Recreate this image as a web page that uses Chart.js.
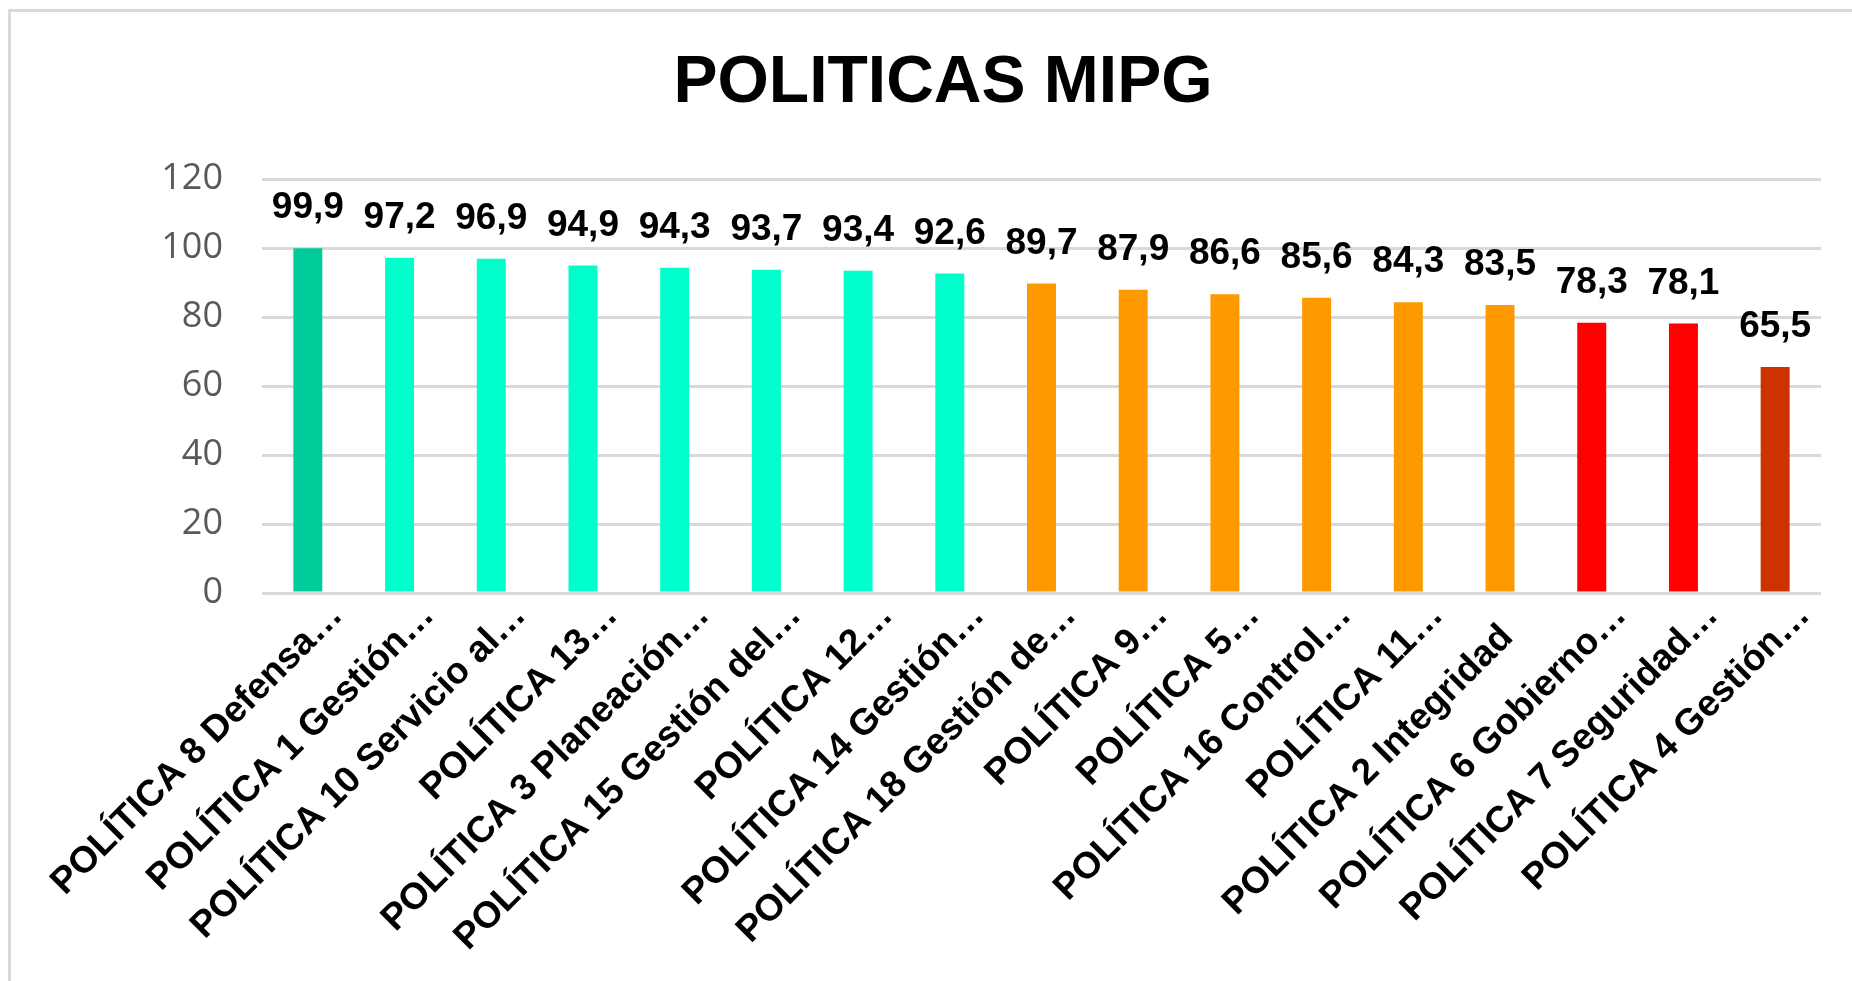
<!DOCTYPE html>
<html>
<head>
<meta charset="utf-8">
<script src="https://cdn.jsdelivr.net/npm/chart.js@4.4.1/dist/chart.umd.min.js"></script>
<style>
  html, body { margin: 0; padding: 0; background: #ffffff; }
  #wrap { width: 1852px; height: 981px; position: relative; }
</style>
</head>
<body>
<div id="wrap"><canvas id="c" width="1852" height="981"></canvas></div>
<script>
const chartTitle = "POLITICAS MIPG";
const categories = [
  "POLÍTICA 8 Defensa…",
  "POLÍTICA 1 Gestión…",
  "POLÍTICA 10 Servicio al…",
  "POLÍTICA 13…",
  "POLÍTICA 3 Planeación…",
  "POLÍTICA 15 Gestión del…",
  "POLÍTICA 12…",
  "POLÍTICA 14 Gestión…",
  "POLÍTICA 18 Gestión de…",
  "POLÍTICA 9…",
  "POLÍTICA 5…",
  "POLÍTICA 16 Control…",
  "POLÍTICA 11…",
  "POLÍTICA 2 Integridad\u00A0\u00A0\u00A0",
  "POLÍTICA 6 Gobierno…",
  "POLÍTICA 7 Seguridad…",
  "POLÍTICA 4 Gestión…"
];
const values = [99.9, 97.2, 96.9, 94.9, 94.3, 93.7, 93.4, 92.6, 89.7, 87.9, 86.6, 85.6, 84.3, 83.5, 78.3, 78.1, 65.5];
const barColors = [
  "#00CC99", "#00FFCC", "#00FFCC", "#00FFCC", "#00FFCC", "#00FFCC", "#00FFCC", "#00FFCC",
  "#FF9900", "#FF9900", "#FF9900", "#FF9900", "#FF9900", "#FF9900",
  "#FF0000", "#FF0000", "#CC3300"
];
const yTickMin = 0;
const yTickMax = 120;
const yTickStep = 20;

const frameLines = {
  id: "frameLines",
  beforeDraw(chart) {
    const ctx = chart.ctx;
    ctx.save();
    ctx.fillStyle = "#ffffff";
    ctx.fillRect(0, 0, chart.width, chart.height);
    ctx.fillStyle = "#D9D9D9";
    ctx.fillRect(8, 9, 3, chart.height);
    ctx.fillRect(8, 9, chart.width, 3);
    ctx.restore();
  }
};

const valueLabels = {
  id: "valueLabels",
  afterDatasetsDraw(chart) {
    const ctx = chart.ctx;
    const meta = chart.getDatasetMeta(0);
    ctx.save();
    ctx.font = "bold 37px 'Liberation Sans', Arial, sans-serif";
    ctx.fillStyle = "#000000";
    ctx.textAlign = "center";
    ctx.textBaseline = "alphabetic";
    meta.data.forEach((bar, i) => {
      const txt = values[i].toFixed(1).replace(".", ",");
      ctx.fillText(txt, bar.x, bar.y - 30);
    });
    ctx.restore();
  }
};

new Chart(document.getElementById("c"), {
  type: "bar",
  data: {
    labels: categories,
    datasets: [{
      data: values,
      backgroundColor: barColors,
      borderWidth: 0,
      barPercentage: 0.316,
      categoryPercentage: 1.0
    }]
  },
  options: {
    responsive: false,
    animation: false,
    devicePixelRatio: 1,
    layout: { padding: { left: 65, right: 31, top: 0, bottom: 0 } },
    plugins: {
      legend: { display: false },
      tooltip: { enabled: false },
      title: {
        display: true,
        text: chartTitle,
        color: "#000000",
        font: { family: "'Liberation Sans', Arial, sans-serif", size: 66, weight: "bold" },
        padding: { top: 44.5, bottom: 55.3 }
      }
    },
    scales: {
      x: {
        grid: { display: false, drawTicks: false },
        border: { display: false },
        ticks: {
          autoSkip: false,
          minRotation: 45,
          maxRotation: 45,
          labelOffset: 29,
          padding: 1,
          color: "#000000",
          font: { family: "'Liberation Sans', Arial, sans-serif", size: 37, weight: "bold" }
        },
        afterFit(scale) {
          scale.paddingLeft = 0;
          scale.paddingRight = 0;
          scale.height = 388;
        }
      },
      y: {
        min: yTickMin,
        max: yTickMax,
        grid: { color: "#D9D9D9", lineWidth: 3, drawTicks: false },
        border: { display: false },
        ticks: {
          stepSize: yTickStep,
          padding: 39,
          color: "#595959",
          font: { family: "'Open Sans', sans-serif", size: 36 }
        },
        afterFit(scale) {
          scale.width = 197;
        }
      }
    }
  },
  plugins: [frameLines, valueLabels]
});
</script>
</body>
</html>
